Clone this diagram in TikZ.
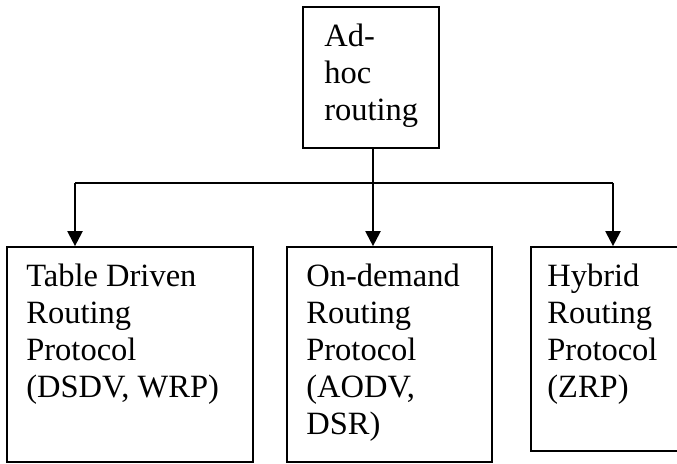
\documentclass[tikz,border=0pt]{standalone}
\usepackage{fontspec}
\setmainfont{Liberation Serif}
\usetikzlibrary{positioning,arrows.meta}

\begin{document}
\begin{tikzpicture}[
        x=1pt, y=1pt,
        box/.style={rectangle, draw=black, line width=1.7pt, inner sep=0pt},
        txt/.style={inner sep=0pt, align=left, font=\fontsize{32.5}{37}\selectfont},
        arrow/.style={line width=2.2pt, -{Triangle[width=15pt,length=15pt]}}
    ]
        \useasboundingbox (0,0) rectangle (677,463);

        \node (top) [box, minimum width=136pt, minimum height=141pt] at (371,385.5) {};
        \node (tab) [box, minimum width=246pt, minimum height=215pt] at (130,108.5) {};
        \node (ond) [box, minimum width=205pt, minimum height=215pt] at (389.5,108.5) {};
        \node (hyb) [box, minimum width=150pt, minimum height=204pt] at (606,114) {};

        \node (toptxt) [txt, below right=18pt and 22pt of top.north west] {Ad-\\hoc\\routing};
        \node (tabtxt) [txt, below right=18pt and 20pt of tab.north west] {Table Driven\\Routing\\Protocol\\(DSDV, WRP)};
        \node (ondtxt) [txt, below right=18pt and 20pt of ond.north west] {On-demand\\Routing\\Protocol\\(AODV,\\DSR)};
        \node (hybtxt) [txt, below right=18pt and 17pt of hyb.north west] {Hybrid\\Routing\\Protocol\\(ZRP)};

        \coordinate (jl) at (75,280);
        \coordinate (jr) at (613,280);

        \draw[arrow] ([xshift=2pt]top.south) -- ([xshift=2pt]top.south |- ond.north);
        \draw[line width=2.2pt] (jl) -- (jr);
        \draw[arrow] (jl) -- (jl |- tab.north);
        \draw[arrow] (jr) -- (jr |- hyb.north);
    \end{tikzpicture}
\end{document}
